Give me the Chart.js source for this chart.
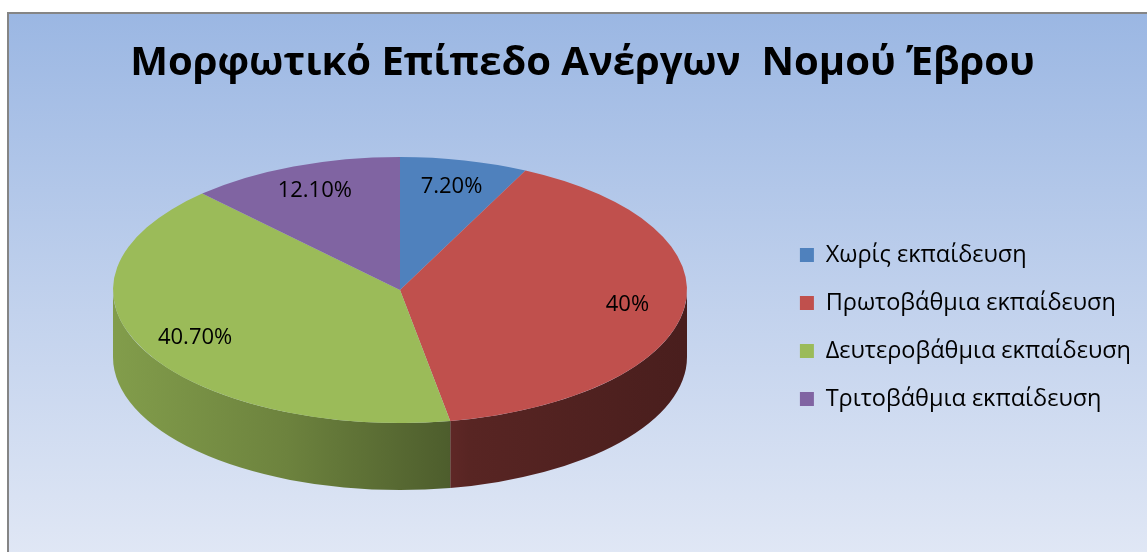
<!DOCTYPE html>
<html lang="el">
<head>
  <meta charset="UTF-8">
  <title>Μορφωτικό Επίπεδο Ανέργων Νομού Έβρου</title>
  <script src="https://cdn.jsdelivr.net/npm/chart.js"></script>
  <style>
    html, body { margin: 0; padding: 0; background: #fff; overflow: hidden; }
    .chart-box {
      position: absolute;
      left: 7px;
      top: 12px;
      width: 1140px;
      height: 540px;
      border-left: 2px solid #858585;
      border-top: 2px solid #858585;
      background: linear-gradient(to bottom, #9bb7e3 0%, #c2d2ed 55%, #e0e7f5 100%);
    }
    .chart-container { position: relative; width: 1138px; height: 538px; }
  </style>
</head>
<body>
  <div class="chart-box">
    <div class="chart-container">
      <canvas id="myChart"></canvas>
    </div>
  </div>

  <script>
    const categories = ['Χωρίς εκπαίδευση', 'Πρωτοβάθμια εκπαίδευση', 'Δευτεροβάθμια εκπαίδευση', 'Τριτοβάθμια εκπαίδευση'];
    const shares = [7.2, 40, 40.7, 12.1];
    const shareLabels = ['7.20%', '40%', '40.70%', '12.10%'];
    const sliceColors = ['#4F81BD', '#C0504D', '#9BBB59', '#8064A2'];

    function shade(hex, f) {
      const n = parseInt(hex.slice(1), 16);
      const r = Math.round(((n >> 16) & 255) * f);
      const g = Math.round(((n >> 8) & 255) * f);
      const b = Math.round((n & 255) * f);
      return `rgb(${r},${g},${b})`;
    }

    // squashes the flat pie into a tilted disc and draws the front wall
    const pie3d = {
      id: 'pie3d',
      beforeDatasetsDraw(chart, args, opts) {
        const arcs = chart.getDatasetMeta(0).data;
        if (!arcs.length) return;
        const ctx = chart.ctx;
        const { cx, cy, rx, ry, depth } = opts;

        arcs.forEach((arc, i) => {
          const color = sliceColors[i];
          for (let k = -1; k <= 1; k++) {
            const a = Math.max(arc.startAngle, 2 * Math.PI * k);
            const b = Math.min(arc.endAngle, 2 * Math.PI * k + Math.PI);
            if (b <= a) continue;
            const grad = ctx.createLinearGradient(cx - rx, 0, cx + rx, 0);
            grad.addColorStop(0, shade(color, 0.84));
            grad.addColorStop(0.3, shade(color, 0.7));
            grad.addColorStop(0.58, shade(color, 0.5));
            grad.addColorStop(0.62, shade(color, 0.46));
            grad.addColorStop(1, shade(color, 0.38));
            ctx.save();
            ctx.beginPath();
            ctx.ellipse(cx, cy, rx, ry, 0, a, b);
            ctx.ellipse(cx, cy + depth, rx, ry, 0, b, a, true);
            ctx.closePath();
            ctx.fillStyle = grad;
            ctx.fill();
            ctx.restore();
          }
        });

        const first = arcs[0];
        ctx.save();
        ctx.translate(cx, cy);
        ctx.scale(rx / first.outerRadius, ry / first.outerRadius);
        ctx.translate(-first.x, -first.y);
      },
      afterDatasetsDraw(chart, args, opts) {
        const arcs = chart.getDatasetMeta(0).data;
        if (!arcs.length) return;
        const ctx = chart.ctx;
        ctx.restore();

        const { cx, cy, rx, ry, labelRadius } = opts;
        ctx.save();
        ctx.font = '22px "Open Sans"';
        ctx.fillStyle = '#000';
        ctx.textAlign = 'center';
        ctx.textBaseline = 'middle';
        arcs.forEach((arc, i) => {
          const mid = (arc.startAngle + arc.endAngle) / 2;
          const x = cx + Math.cos(mid) * rx * labelRadius;
          const y = cy + Math.sin(mid) * ry * labelRadius;
          ctx.fillText(shareLabels[i], x, y);
        });
        ctx.restore();
      }
    };

    const myChart = document.getElementById('myChart');

    new Chart(myChart, {
      type: 'pie',
      data: {
        labels: categories,
        datasets: [
          {
            data: shares,
            backgroundColor: sliceColors,
            borderWidth: 0,
            clip: false,
          },
        ],
      },
      options: {
        responsive: true,
        maintainAspectRatio: false,
        animation: false,
        events: [],
        layout: {
          padding: { top: 0, right: 6, bottom: 12, left: 15 }
        },
        plugins: {
          title: {
            display: true,
            text: 'Μορφωτικό Επίπεδο Ανέργων  Νομού Έβρου',
            color: '#000',
            font: { family: 'Open Sans', size: 40, weight: 'bold' },
            padding: { top: 26, bottom: 20 },
          },
          legend: {
            position: 'right',
            align: 'center',
            title: {
              display: true,
              text: ' ',
              font: { size: 12 },
              padding: { top: 85.6, bottom: 0 },
            },
            labels: {
              color: '#000',
              font: { family: 'Open Sans', size: 23.5 },
              boxWidth: 14,
              boxHeight: 14,
              padding: 24.5,
            },
          },
          tooltip: { enabled: false },
          pie3d: {
            cx: 391,
            cy: 276,
            rx: 287,
            ry: 133,
            depth: 67,
            labelRadius: 0.8,
          },
        },
      },
      plugins: [pie3d],
    });
  </script>
</body>
</html>
